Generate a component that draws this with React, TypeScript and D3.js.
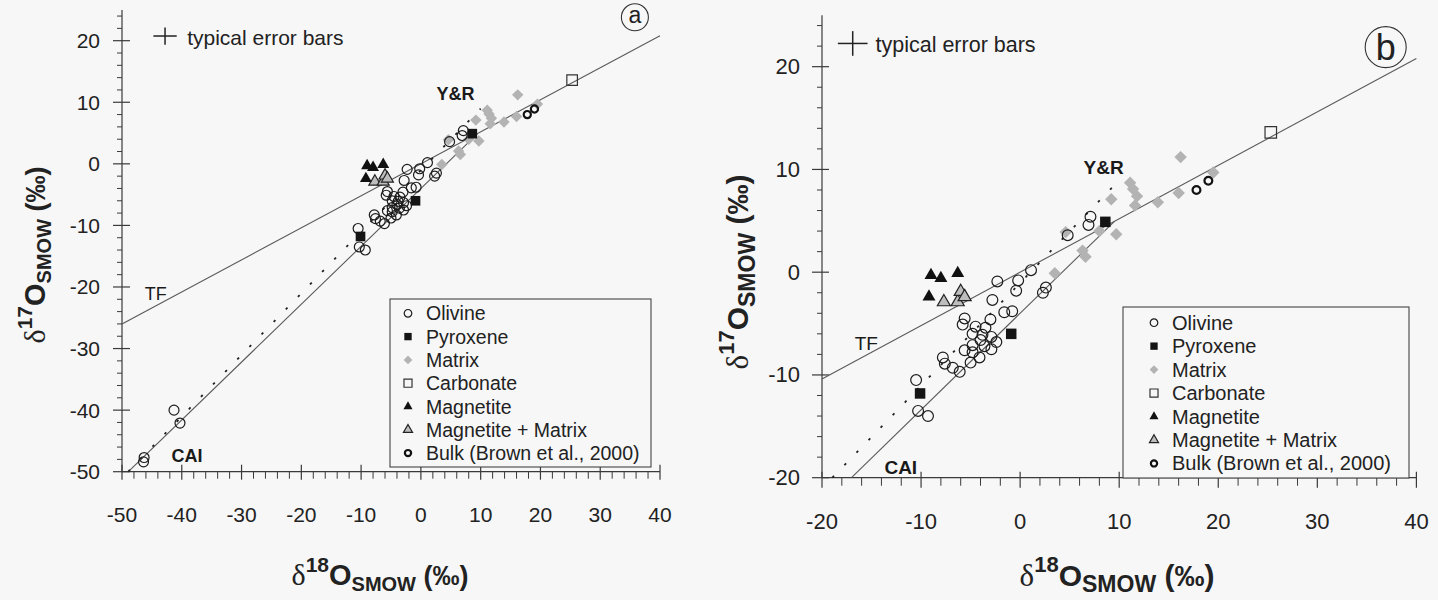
import { useEffect, useRef } from "react";
import * as d3 from "d3";

type Pt = [number, number];

// [δ18O, δ17O] in ‰ SMOW
const olivine: Pt[] = [
  [7.1, 5.4], [6.9, 4.6], [4.8, 3.6], [1.1, 0.2], [-0.2, -0.8], [-2.3, -0.9],
  [-0.4, -1.8], [2.6, -1.5], [2.3, -2.0], [-2.8, -2.7], [-1.6, -3.9], [-0.8, -3.8],
  [-5.6, -4.5], [-5.8, -5.1], [-3.0, -4.6], [-4.5, -5.3], [-3.5, -5.4], [-4.8, -6.0],
  [-3.8, -6.1], [-4.0, -6.6], [-2.9, -6.3], [-2.4, -6.8], [-4.8, -7.1], [-5.6, -7.6],
  [-4.8, -7.8], [-3.6, -7.2], [-2.9, -7.5], [-4.1, -8.3], [-5.0, -8.8], [-7.8, -8.3],
  [-7.6, -8.9], [-6.8, -9.3], [-6.1, -9.7], [-10.5, -10.5], [-10.3, -13.5], [-9.3, -14.0],
  [-41.3, -40.0], [-40.3, -42.1], [-46.3, -47.7], [-46.4, -48.4],
];
const pyroxene: Pt[] = [[-10.1, -11.8], [-0.9, -6.0], [8.6, 4.9]];
const matrix: Pt[] = [
  [16.2, 11.2], [19.5, 9.7], [16.0, 7.7], [13.9, 6.8], [11.1, 8.7], [11.4, 8.1],
  [11.8, 7.4], [11.6, 6.5], [9.2, 7.1], [9.7, 3.7], [8.0, 4.0], [6.3, 2.1],
  [6.6, 1.5], [4.6, 3.9], [3.5, -0.1],
];
const carbonate: Pt[] = [[25.3, 13.6]];
const magnetite: Pt[] = [[-9.0, -0.3], [-8.0, -0.6], [-6.3, -0.1], [-9.2, -2.4]];
const magnetiteMatrix: Pt[] = [[-7.7, -2.9], [-6.3, -2.9], [-6.0, -1.9], [-5.6, -2.4]];
const bulk: Pt[] = [[17.8, 8.0], [19.0, 8.9]];

const legendLabels = [
  "Olivine", "Pyroxene", "Matrix", "Carbonate", "Magnetite",
  "Magnetite + Matrix", "Bulk (Brown et al., 2000)",
];

const xTicksA = [-50, -40, -30, -20, -10, 0, 10, 20, 30, 40];
const yTicksA = [-50, -40, -30, -20, -10, 0, 10, 20];
const xTicksB = [-20, -10, 0, 10, 20, 30, 40];
const yTicksB = [-20, -10, 0, 10, 20];

// reference lines: δ17O = slope * δ18O + intercept
const refLines = [
  { name: "TF", slope: 0.52, intercept: 0, xEnd: 40, dotted: false },
  { name: "CAI", slope: 0.94, intercept: -4.0, xEnd: 9.52, dotted: false },
  { name: "Y&R", slope: 1.0, intercept: -1.04, xEnd: 10, dotted: true },
];

const FONT = "'Liberation Sans', Arial, sans-serif";
const SERIF = "'Liberation Serif', 'Times New Roman', serif";

const styles: Record<string, any> = {
  olivine: { shape: "circle", size: 5.4, fill: "none", stroke: "#1c1c1c", sw: 1.2 },
  pyroxene: { shape: "square", size: 10.5, fill: "#141414", stroke: "none", sw: 0 },
  matrix: { shape: "diamond", size: 8.8, fill: "#b3b3b3", stroke: "none", sw: 0 },
  carbonate: { shape: "square", size: 11.5, fill: "none", stroke: "#333", sw: 1.2 },
  magnetite: { shape: "triangle", size: 13, fill: "#111", stroke: "none", sw: 0 },
  magnetiteMatrix: { shape: "triangle", size: 13, fill: "#bdbdbd", stroke: "#222", sw: 1.2 },
  bulk: { shape: "circle", size: 3.9, fill: "none", stroke: "#111", sw: 2.2 },
};

const legendKeys = ["olivine", "pyroxene", "matrix", "carbonate", "magnetite", "magnetiteMatrix", "bulk"];
const drawOrder: [string, Pt[]][] = [
  ["matrix", matrix], ["olivine", olivine], ["carbonate", carbonate], ["bulk", bulk],
  ["magnetiteMatrix", magnetiteMatrix], ["magnetite", magnetite], ["pyroxene", pyroxene],
];

const panels = [
  {
    id: "a", xDomain: [-50, 40], yDomain: [-50, 25],
    left: 122, right: 660, bottom: 471.7, top: 9.9,
    xTicks: xTicksA, yTicks: yTicksA, markerScale: 0.92,
    tickFont: 21, xLabelDy: 50, tickUp: 7, tickDown: 8, minorLen: 7, yTickOut: 9, yTickIn: 8,
    labels: [
      { text: "TF", x: -46.2, y: -22.1, bold: false, size: 18 },
      { text: "Y&R", x: 2.6, y: 10.4, bold: true, size: 18 },
      { text: "CAI", x: -41.7, y: -48.5, bold: true, size: 18 },
    ],
    err: { x: -42.8, y: 20.76, dx: 1.95, dy: 1.4, tx: -39.1, ty: 19.3, size: 21 },
    letter: { x: 35.8, y: 23.8, r: 13.5, size: 23, dy: 0.26 },
    legend: { x: 390, y: 299, w: 261, h: 168, row0: 313.3, step: 23.3, symX: 408, textX: 426, size: 19.5 },
    xTitle: { cx: 380, y: 585, sup: "18", d: 30, s: 21, o: 29, sub: 20, p: 27, supDy: 13, subDy: 6 },
    yTitle: { cx: 45, cy: 255, sup: "17", d: 30, s: 21, o: 29, sub: 20, p: 27, supDy: 13, subDy: 6 },
  },
  {
    id: "b", xDomain: [-20, 40], yDomain: [-20, 25],
    left: 822, right: 1416.4, bottom: 477.7, top: 15.3,
    xTicks: xTicksB, yTicks: yTicksB, markerScale: 1.0,
    tickFont: 22, xLabelDy: 51, tickUp: 6, tickDown: 10, minorLen: 8, yTickOut: 10, yTickIn: 7,
    labels: [
      { text: "TF", x: -16.7, y: -7.6, bold: false, size: 19 },
      { text: "Y&R", x: 6.4, y: 9.6, bold: true, size: 19 },
      { text: "CAI", x: -13.7, y: -19.6, bold: true, size: 19 },
    ],
    err: { x: -16.9, y: 22.26, dx: 1.5, dy: 1.2, tx: -14.6, ty: 21.4, size: 21.5 },
    letter: { x: 36.9, y: 21.9, r: 20.5, size: 36, dy: 0.36 },
    legend: { x: 1123, y: 307, w: 286, h: 171, row0: 322.7, step: 23.45, symX: 1154, textX: 1172, size: 20 },
    xTitle: { cx: 1117, y: 586, sup: "18", d: 31, s: 22, o: 30, sub: 23, p: 30, supDy: 14, subDy: 6 },
    yTitle: { cx: 748, cy: 272, sup: "17", d: 31, s: 22, o: 30, sub: 23, p: 30, supDy: 14, subDy: 7 },
  },
];

function shapePath(shape: string, size: number) {
  if (shape === "circle") return d3.symbol().type(d3.symbolCircle).size(Math.PI * size * size)();
  if (shape === "triangle") return d3.symbol().type(d3.symbolTriangle).size((Math.sqrt(3) / 4) * size * size)();
  return d3.symbol().type(d3.symbolSquare).size(size * size)();
}

function drawMarker(sel: any, key: string, k: number) {
  const st = styles[key];
  sel
    .attr("d", shapePath(st.shape, st.size * k))
    .attr("fill", st.fill)
    .attr("stroke", st.stroke)
    .attr("stroke-width", st.sw);
}

function titleText(g: any, t: any) {
  const txt = g.append("text").attr("fill", "#222").attr("font-family", FONT);
  txt.append("tspan").attr("font-family", SERIF).attr("font-size", t.d).text("δ");
  txt.append("tspan").attr("font-size", t.s).attr("font-weight", "bold").attr("dy", -t.supDy).text(t.sup);
  txt.append("tspan").attr("font-size", t.o).attr("font-weight", "bold").attr("dy", t.supDy).text("O");
  txt.append("tspan").attr("font-size", t.sub).attr("font-weight", "bold").attr("dy", t.subDy).text("SMOW");
  txt.append("tspan").attr("font-size", t.p).attr("font-weight", "bold").attr("dy", -t.subDy).text(" (‰)");
  return txt;
}

function drawPanel(svg: any, p: any) {
  const [xmin, xmax] = p.xDomain;
  const [ymin, ymax] = p.yDomain;
  const x = d3.scaleLinear().domain(p.xDomain).range([p.left, p.right]);
  const y = d3.scaleLinear().domain(p.yDomain).range([p.bottom, p.top]);
  const g = svg.append("g").attr("class", "panel-" + p.id);
  const axisColor = "#3a3a3a";

  // axes
  g.append("line").attr("x1", x(xmin)).attr("x2", x(xmax)).attr("y1", y(ymin)).attr("y2", y(ymin))
    .attr("stroke", axisColor).attr("stroke-width", 1.2);
  g.append("line").attr("x1", x(xmin)).attr("x2", x(xmin)).attr("y1", y(ymin)).attr("y2", y(ymax))
    .attr("stroke", axisColor).attr("stroke-width", 1.2);

  const xMinor = d3.range(xmin + 2, xmax, 2).filter(v => v % 10 !== 0);
  const yMinor = d3.range(ymin + 2, ymax, 2).filter(v => v % 10 !== 0);

  g.selectAll(".xmaj").data(p.xTicks).join("line").attr("class", "xmaj")
    .attr("x1", (d: number) => x(d)).attr("x2", (d: number) => x(d))
    .attr("y1", y(ymin) - p.tickUp).attr("y2", y(ymin) + p.tickDown)
    .attr("stroke", axisColor).attr("stroke-width", 1.2);
  g.selectAll(".xmin").data(xMinor).join("line").attr("class", "xmin")
    .attr("x1", (d: number) => x(d)).attr("x2", (d: number) => x(d))
    .attr("y1", y(ymin)).attr("y2", y(ymin) + p.minorLen)
    .attr("stroke", axisColor).attr("stroke-width", 1);
  g.selectAll(".xlab").data(p.xTicks).join("text").attr("class", "xlab")
    .attr("x", (d: number) => x(d)).attr("y", y(ymin) + p.xLabelDy)
    .attr("text-anchor", "middle").attr("font-family", FONT).attr("font-size", p.tickFont)
    .attr("fill", "#222").text((d: number) => String(d));

  g.selectAll(".ymaj").data(p.yTicks).join("line").attr("class", "ymaj")
    .attr("x1", x(xmin) - p.yTickOut).attr("x2", x(xmin) + p.yTickIn)
    .attr("y1", (d: number) => y(d)).attr("y2", (d: number) => y(d))
    .attr("stroke", axisColor).attr("stroke-width", 1.2);
  g.selectAll(".ymin").data(yMinor).join("line").attr("class", "ymin")
    .attr("x1", x(xmin) - 5).attr("x2", x(xmin))
    .attr("y1", (d: number) => y(d)).attr("y2", (d: number) => y(d))
    .attr("stroke", axisColor).attr("stroke-width", 1);
  g.selectAll(".ylab").data(p.yTicks).join("text").attr("class", "ylab")
    .attr("x", x(xmin) - 22).attr("y", (d: number) => y(d) + 7.5)
    .attr("text-anchor", "end").attr("font-family", FONT).attr("font-size", p.tickFont)
    .attr("fill", "#222").text((d: number) => String(d));

  // reference lines
  refLines.forEach(l => {
    const x0 = Math.max(xmin, (ymin - l.intercept) / l.slope);
    const x1 = Math.min(l.xEnd, xmax);
    g.append("line")
      .attr("x1", x(x0)).attr("y1", y(l.slope * x0 + l.intercept))
      .attr("x2", x(x1)).attr("y2", y(l.slope * x1 + l.intercept))
      .attr("stroke", l.dotted ? "#222" : "#5a5a5a")
      .attr("stroke-width", l.dotted ? 1.8 : 1.1)
      .attr("stroke-dasharray", l.dotted ? "2.5 14.9" : null);
  });

  // data points
  const inside = (d: Pt) => d[0] >= xmin && d[0] <= xmax && d[1] >= ymin && d[1] <= ymax;
  drawOrder.forEach(([key, data]) => {
    const st = styles[key];
    g.selectAll(".pt-" + key).data(data.filter(inside)).join("path").attr("class", "pt-" + key)
      .attr("transform", (d: Pt) => `translate(${x(d[0])},${y(d[1])})${st.shape === "diamond" ? " rotate(45)" : ""}`)
      .call((s: any) => drawMarker(s, key, p.markerScale));
  });

  // line labels
  g.selectAll(".lbl").data(p.labels).join("text").attr("class", "lbl")
    .attr("x", (d: any) => x(d.x)).attr("y", (d: any) => y(d.y))
    .attr("font-family", FONT).attr("font-size", (d: any) => d.size)
    .attr("font-weight", (d: any) => (d.bold ? "bold" : "normal"))
    .attr("fill", "#1a1a1a").text((d: any) => d.text);

  // typical error bars
  const e = p.err;
  g.append("line").attr("x1", x(e.x - e.dx)).attr("x2", x(e.x + e.dx)).attr("y1", y(e.y)).attr("y2", y(e.y))
    .attr("stroke", "#222").attr("stroke-width", 1.5);
  g.append("line").attr("x1", x(e.x)).attr("x2", x(e.x)).attr("y1", y(e.y - e.dy)).attr("y2", y(e.y + e.dy))
    .attr("stroke", "#222").attr("stroke-width", 1.5);
  g.append("text").attr("x", x(e.tx)).attr("y", y(e.ty))
    .attr("font-family", FONT).attr("font-size", e.size).attr("fill", "#222").text("typical error bars");

  // panel letter
  const L = p.letter;
  g.append("circle").attr("cx", x(L.x)).attr("cy", y(L.y)).attr("r", L.r)
    .attr("fill", "none").attr("stroke", "#333").attr("stroke-width", 1.1);
  g.append("text").attr("x", x(L.x)).attr("y", y(L.y) + L.dy * L.size)
    .attr("text-anchor", "middle").attr("font-family", FONT).attr("font-size", L.size)
    .attr("fill", "#222").text(p.id);

  // legend
  const lg = p.legend;
  g.append("rect").attr("x", lg.x).attr("y", lg.y).attr("width", lg.w).attr("height", lg.h)
    .attr("fill", "#f7f7f7").attr("stroke", "#444").attr("stroke-width", 1.1);
  const rows = g.selectAll(".leg").data(legendKeys).join("g").attr("class", "leg")
    .attr("transform", (_: string, i: number) => `translate(0,${lg.row0 + i * lg.step})`);
  rows.append("path")
    .attr("transform", (k: string) => `translate(${lg.symX},0)${styles[k].shape === "diamond" ? " rotate(45)" : ""}`)
    .each(function (this: any, k: string) {
      drawMarker(d3.select(this), k, k === "bulk" ? 0.8 : 0.7);
    });
  rows.append("text").attr("x", lg.textX).attr("y", 7)
    .attr("font-family", FONT).attr("font-size", lg.size).attr("fill", "#222")
    .text((_: string, i: number) => legendLabels[i]);

  // axis titles
  titleText(g, p.xTitle).attr("x", p.xTitle.cx).attr("y", p.xTitle.y).attr("text-anchor", "middle");
  titleText(g, p.yTitle).attr("text-anchor", "middle")
    .attr("transform", `translate(${p.yTitle.cx},${p.yTitle.cy}) rotate(-90)`);
}

export default function App() {
  const svgRef = useRef<SVGSVGElement>(null);

  useEffect(() => {
    const svg = d3.select(svgRef.current);
    svg.selectAll("*").remove();
    svg.append("rect").attr("width", 1438).attr("height", 600).attr("fill", "#f7f7f7");
    panels.forEach(p => drawPanel(svg, p));
  }, []);

  return (
    <svg
      ref={svgRef}
      width={1438}
      height={600}
      style={{ position: "absolute", left: 0, top: 0 }}
    />
  );
}
